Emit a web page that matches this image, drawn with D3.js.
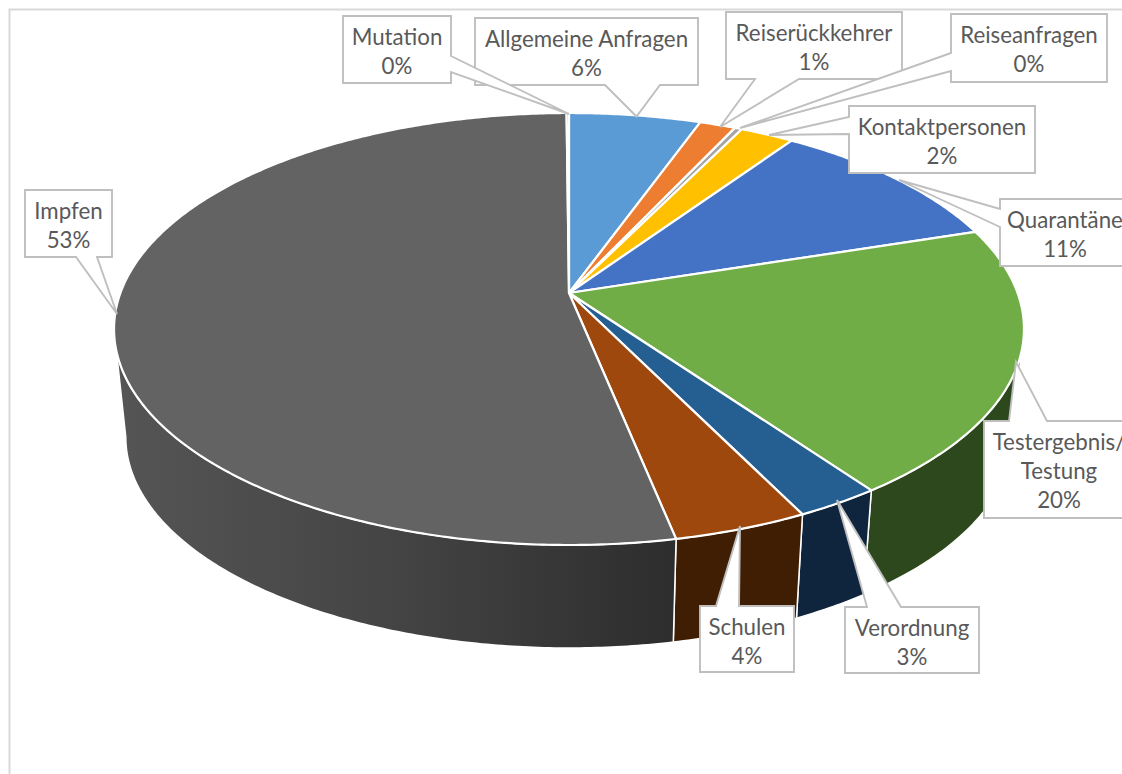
<!DOCTYPE html>
<html>
<head>
<meta charset="utf-8">
<script src="https://cdn.jsdelivr.net/npm/d3@7"></script>
<style>
  html, body { margin: 0; padding: 0; background: #fff; overflow: hidden; }
  text { font-family: Lato, "Open Sans", sans-serif; font-size: 22.3px; fill: #595959; }
</style>
</head>
<body>
<svg id="chart" width="1122" height="774"></svg>
<script>
// values, the labels keep the rounded numbers of the original
const categories = ["Allgemeine Anfragen", "Reiserückkehrer", "Reiseanfragen", "Kontaktpersonen", "Quarantäne", "Testergebnis/|Testung", "Verordnung", "Schulen", "Impfen", "Mutation"];
const values = [5.5, 1.5, 0.3, 2.25, 10.5, 20.05, 2.6, 4.1, 53.1, 0.1];
const percentLabels = ["6%", "1%", "0%", "2%", "11%", "20%", "3%", "4%", "53%", "0%"];
const topColors = ["#5b9bd5", "#ed7d31", "#a5a5a5", "#ffc000", "#4472c4", "#70ad47", "#255e91", "#9e480e", "#636363", "#997300"];
const sideColors = ["#2d4e6b", "#6e3a16", "#4d4d4d", "#775a00", "#203864", "#2e481d", "#0f243d", "#401e03", null, "#473600"];

// callout boxes, drawn in this order. tip is where the pointer ends, base the two points on the box
const callouts = [
  { i: 0, x0: 475, y0: 18, x1: 698, y1: 85, base: [[660, 85], [605, 85]], tip: [636.5, 116.5] },
  { i: 9, x0: 343, y0: 16, x1: 451, y1: 83, base: [[451, 72], [451, 56]], tip: [569, 114], side: "right" },
  { i: 1, x0: 726, y0: 12, x1: 902, y1: 79, base: [[799, 79], [755, 79]], tip: [720, 127] },
  { i: 2, x0: 951, y0: 14, x1: 1107, y1: 82, base: [[951, 53], [951, 71]], tip: [740, 128], side: "left" },
  { i: 3, x0: 849, y0: 106, x1: 1035, y1: 173, base: [[849, 117], [849, 134]], tip: [769, 135], side: "left" },
  { i: 4, x0: 1000, y0: 199, x1: 1130, y1: 266, base: [[1000, 209], [1000, 227]], tip: [899, 180], side: "left" },
  { i: 5, x0: 984, y0: 421, x1: 1134, y1: 518, base: [[1009, 421], [1047, 421]], tip: [1016, 362], side: "top" },
  { i: 6, x0: 845, y0: 607, x1: 979, y1: 673, base: [[867, 607], [901, 607]], tip: [837, 500], side: "top" },
  { i: 7, x0: 700, y0: 606, x1: 794, y1: 672, base: [[716, 606], [739, 606]], tip: [740, 526], side: "top" },
  { i: 8, x0: 25, y0: 190, x1: 112, y1: 257, base: [[97, 257], [76, 257]], tip: [117, 314] }
];

const svg = d3.select("#chart");

// frame of the chart area, no bottom line and running off to the right
svg.append("path")
  .attr("d", "M9.5,774V9.5H1122")
  .attr("fill", "none")
  .attr("stroke", "#d9d9d9")
  .attr("stroke-width", 2);

// 3D look: a circle seen in perspective, same apex for the top and bottom disc
const persp = 1 / 6;
const topDisc = { cx: 569, cy: 293, rx: 448.6, ry: 210 };
const bottomDisc = { cx: 569, cy: 402, rx: 437, ry: 205 };

function project(disc, a) {
  const w = 1 + persp * Math.cos(a);
  return [disc.cx + disc.rx * Math.sin(a) / w, disc.cy - disc.ry * Math.cos(a) / w];
}

const arcs = d3.pie().sort(null).value(d => d)(values);
const line = d3.line();

function rimPoints(disc, a0, a1) {
  const n = Math.max(2, Math.ceil((a1 - a0) / 0.01));
  return d3.range(n + 1).map(k => project(disc, a0 + (a1 - a0) * k / n));
}

// the wall only shows between the two points where the rim turns back
const frontStart = Math.acos(-persp);
const frontEnd = 2 * Math.PI - frontStart;
const walls = arcs
  .map(d => ({ index: d.index, a0: Math.max(d.startAngle, frontStart), a1: Math.min(d.endAngle, frontEnd) }))
  .filter(d => d.a1 > d.a0);

// gradient for the big grey wall
const grad = svg.append("defs").append("linearGradient")
  .attr("id", "greyWall")
  .attr("gradientUnits", "userSpaceOnUse")
  .attr("x1", 115).attr("y1", 0).attr("x2", 675).attr("y2", 0);
grad.append("stop").attr("offset", 0).attr("stop-color", "#555555");
grad.append("stop").attr("offset", 0.5).attr("stop-color", "#444444");
grad.append("stop").attr("offset", 1).attr("stop-color", "#2d2d2d");

svg.append("g").selectAll("path")
  .data(walls)
  .join("path")
  .attr("d", d => {
    const up = rimPoints(topDisc, d.a0, d.a1);
    const down = rimPoints(bottomDisc, d.a0, d.a1).reverse();
    return line(up.concat(down)) + "Z";
  })
  .attr("fill", d => d.index === 8 ? "url(#greyWall)" : sideColors[d.index])
  .attr("stroke", "#fff")
  .attr("stroke-width", 1.5)
  .attr("stroke-linejoin", "round");

// top disc
svg.append("g").selectAll("path")
  .data(arcs)
  .join("path")
  .attr("d", d => line([[topDisc.cx, topDisc.cy]].concat(rimPoints(topDisc, d.startAngle, d.endAngle))) + "Z")
  .attr("fill", d => topColors[d.index])
  .attr("stroke", "#fff")
  .attr("stroke-width", 2.2)
  .attr("stroke-linejoin", "round");

// callouts
const boxes = svg.append("g").selectAll("g")
  .data(callouts)
  .join("g");

boxes.append("path")
  .attr("d", c => {
    const pts = [[c.x0, c.y0], [c.x1, c.y0], [c.x1, c.y1], [c.x0, c.y1]];
    if (c.side === "right") pts.splice(2, 0, c.base[1], c.tip, c.base[0]);
    else if (c.side === "left") pts.splice(4, 0, c.base[1], c.tip, c.base[0]);
    else if (c.side === "top") pts.splice(1, 0, c.base[0], c.tip, c.base[1]);
    else pts.splice(3, 0, c.base[0], c.tip, c.base[1]);
    return line(pts) + "Z";
  })
  .attr("fill", "#fff")
  .attr("stroke", "#bfbfbf")
  .attr("stroke-width", 1.9)
  .attr("stroke-linejoin", "miter");

boxes.each(function (c) {
  const rows = categories[c.i].split("|").concat(percentLabels[c.i]);
  const mid = (c.x0 + c.x1) / 2;
  d3.select(this).selectAll("text")
    .data(rows)
    .join("text")
    .attr("x", mid)
    .attr("y", (r, k) => c.y0 + 29 + k * 29)
    .attr("text-anchor", "middle")
    .text(r => r);
});
</script>
</body>
</html>
